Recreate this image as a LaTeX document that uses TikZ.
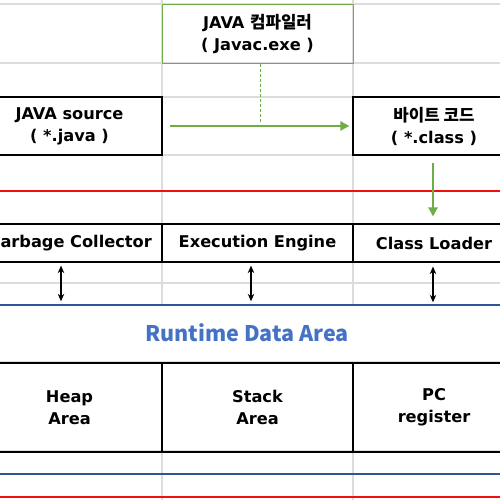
\documentclass[tikz,border=0pt]{standalone}
\usepackage{fontspec}
\setmainfont{DejaVu Sans}
\newfontfamily\krfont{Noto Sans CJK KR}
\usetikzlibrary{arrows.meta}
\definecolor{gridgray}{HTML}{DCDCDC}
\definecolor{jgreen}{HTML}{70AD47}
\definecolor{jred}{HTML}{F01010}
\definecolor{jblue}{HTML}{2E5597}
\definecolor{rblue}{HTML}{4472C4}
\newcommand{\kr}[1]{{\krfont\bfseries\fontsize{16.8}{22}\selectfont #1}}
\tikzset{
  jcell/.style={draw=black,line width=1.2pt,align=center,inner sep=0pt,
    font=\bfseries\fontsize{16.2}{22}\selectfont},
  jcomp/.style={jcell,draw=jgreen,line width=1pt},
  gline/.style={draw=gridgray,line width=1.3pt},
  rline/.style={draw=jred,line width=2pt},
  bline/.style={draw=jblue,line width=2pt},
  garr/.style={-{Triangle[length=9pt,width=9pt]},line width=2.4pt,draw=jgreen},
  barr/.style={{Stealth[length=7.5pt,width=6.5pt]}-{Stealth[length=7.5pt,width=6.5pt]},line width=1.1pt}
}
\begin{document}
\begin{tikzpicture}[x=1pt,y=-1pt]
  \useasboundingbox (0,0) rectangle (500,500);
  \clip (0,0) rectangle (500,500);
  \fill[white] (0,0) rectangle (500,500);
  \foreach \y in {4,63,97,155,224,262,283,362,451}
    \draw[gline] (0,\y) -- (500,\y);
  \foreach \x in {162,353} {
    \draw[gline] (\x,0) -- (\x,304);
    \draw[gline] (\x,362) -- (\x,500);
  }
  \draw[rline] (0,190.5) -- (500,190.5);
  \draw[bline] (0,304.5) -- (500,304.5);
  \draw[bline] (0,474) -- (500,474);
  \draw[rline] (0,497) -- (500,497);

  \node[jcomp,minimum width=191pt,minimum height=59pt] (comp) at (257.5,34.5)
    {JAVA \kr{컴파일러}\\( Javac.exe )};
  \node[jcell,minimum width=185pt,minimum height=58pt] (src) at (69.5,126)
    {JAVA source\\( *.java )};
  \node[jcell,minimum width=162pt,minimum height=58pt] (byte) at (434,126)
    {\kr{바이트 코드}\\( *.class )};
  \node[jcell,minimum width=185pt,minimum height=38pt] (gc) at (69.5,243) {Garbage Collector};
  \node[jcell,minimum width=191pt,minimum height=38pt] (ee) at (257.5,243) {Execution Engine};
  \node[jcell,minimum width=162pt,minimum height=38pt] (cl) at (434,243) {Class Loader};
  \node[minimum width=500pt,minimum height=57pt,inner sep=0pt,text=rblue,
    font=\krfont\bfseries\fontsize{21.5}{26}\selectfont] (rda) at (247,333) {Runtime Data Area};
  \node[jcell,minimum width=185pt,minimum height=89pt] (heap) at (69.5,407.5) {Heap\\Area};
  \node[jcell,minimum width=191pt,minimum height=89pt] (stack) at (257.5,407.5) {Stack\\Area};
  \node[jcell,minimum width=162pt,minimum height=89pt] (pc) at (434,407.5) {PC\\register};

  \coordinate (dashend) at (260,122);
  \draw[jgreen,line width=1pt,dash pattern=on 3pt off 2pt] (comp.south -| dashend) -- (dashend);
  \draw[garr,shorten <=7pt,shorten >=3pt] (src) -- (byte);
  \draw[garr,shorten <=7pt,shorten >=7pt] (byte.south -| 433,0) -- (cl.north -| 433,0);
  \draw[barr,shorten <=3pt,shorten >=3pt] ([xshift=-8.5pt]gc.south) -- ([xshift=-8.5pt]gc.south |- rda.north);
  \draw[barr,shorten <=3pt,shorten >=3pt] ([xshift=-6.5pt]ee.south) -- ([xshift=-6.5pt]ee.south |- rda.north);
  \draw[barr,shorten <=4pt,shorten >=2pt] ([xshift=-1pt]cl.south) -- ([xshift=-1pt]cl.south |- rda.north);
\end{tikzpicture}
\end{document}
